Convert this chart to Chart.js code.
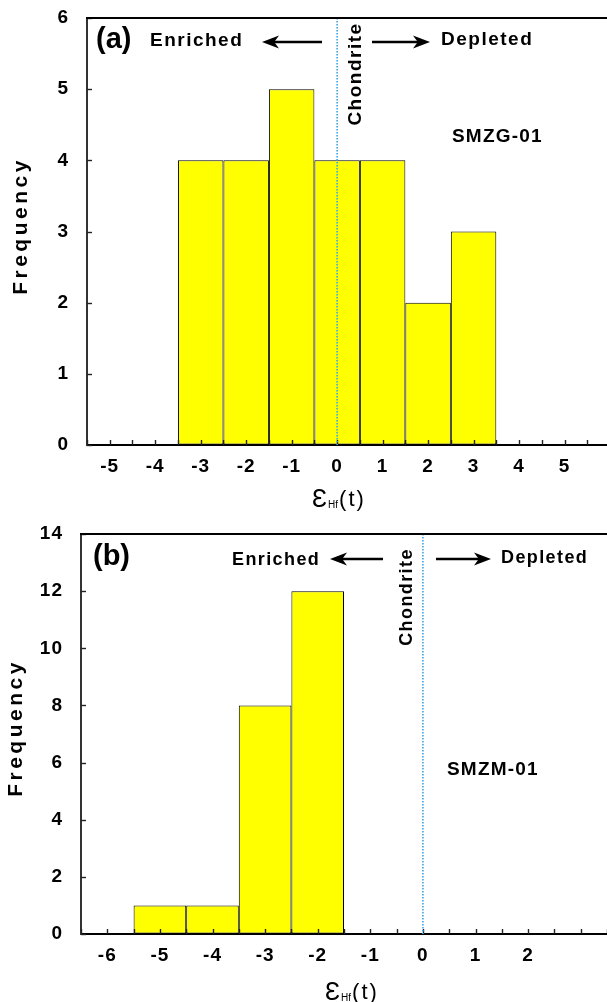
<!DOCTYPE html>
<html><head><meta charset="utf-8">
<script src="https://cdn.jsdelivr.net/npm/chart.js@4.4.1/dist/chart.umd.min.js"></script>
<style>
html,body{margin:0;padding:0;background:#fff;overflow:hidden;width:607px;height:1002px;position:relative;}
#ca{position:absolute;left:0;top:0;}
#cb{position:absolute;left:0;top:515px;}
</style></head><body>
<canvas id="ca" width="614" height="515"></canvas>
<canvas id="cb" width="612" height="487"></canvas>
<script>
// ---------- data ----------
const binsA = [-3, -2, -1, 0, 1, 2, 3];
const freqA = [4, 4, 5, 4, 4, 2, 3];
const binsB = [-5, -4, -3, -2];
const freqB = [1, 1, 8, 12];
const xTickLabelsA = [-5, -4, -3, -2, -1, 0, 1, 2, 3, 4, 5];
const xTickLabelsB = [-6, -5, -4, -3, -2, -1, 0, 1, 2];
const yTickLabelsA = [0, 1, 2, 3, 4, 5, 6];
const yTickLabelsB = [0, 2, 4, 6, 8, 10, 12, 14];
const panelLetters = ['(a)', '(b)'];
const sampleNames = ['SMZG-01', 'SMZM-01'];
const leftText = 'Enriched', rightText = 'Depleted', refText = 'Chondrite', yTitle = 'Frequency';
const xTitleParts = ['\u0190', 'Hf', '(t)'];

// ---------- style ----------
const FONT = '"Liberation Sans", Arial, Helvetica, sans-serif';
Chart.defaults.color = '#000';
Chart.defaults.font.family = FONT;

function drawText(ctx, s, x, y, size, o) {
  o = o || {};
  ctx.save();
  ctx.font = (o.weight || 'bold') + ' ' + size + 'px ' + FONT;
  ctx.letterSpacing = (o.ls || 0) + 'px';
  ctx.fillStyle = '#000';
  ctx.textAlign = o.align || 'left';
  ctx.textBaseline = o.base || 'middle';
  if (o.rot) { ctx.translate(x, y); ctx.rotate(-Math.PI / 2); ctx.fillText(s, 0, 0); }
  else ctx.fillText(s, x, y);
  ctx.restore();
}
function drawArrow(ctx, xTail, xTip, y) {
  const dir = Math.sign(xTip - xTail), L = 17, H = 6.5;
  ctx.save();
  ctx.strokeStyle = '#000'; ctx.fillStyle = '#000'; ctx.lineWidth = 2.6;
  ctx.beginPath(); ctx.moveTo(xTail, y); ctx.lineTo(xTip - dir * L * 0.7, y); ctx.stroke();
  ctx.beginPath(); ctx.moveTo(xTip, y); ctx.lineTo(xTip - dir * L, y - H);
  ctx.lineTo(xTip - dir * L * 0.72, y); ctx.lineTo(xTip - dir * L, y + H); ctx.closePath(); ctx.fill();
  ctx.restore();
}

const panels = [
  { id: 'ca', bins: binsA, freq: freqA, xMin: -5.5, xMax: 6, yMax: 6, yStep: 1,
    xLabels: xTickLabelsA, yLabels: yTickLabelsA, yW: 87, xH: 70, padTop: 18, padRight: 4,
    letter: panelLetters[0], sample: sampleNames[0], fs: 19, ls: 1.5,
    pos: { letter: [96, 40], left: [150, 41], arrowL: [322, 262, 42], ref: [361, 74],
           arrowR: [372, 430, 42], right: [441, 40], sample: [452, 137], sampleSize: 19,
           xTitle: [312, 506], yTitle: [27, 226] } },
  { id: 'cb', bins: binsB, freq: freqB, xMin: -6.5, xMax: 3.5, yMax: 14, yStep: 2,
    xLabels: xTickLabelsB, yLabels: yTickLabelsB, yW: 81, xH: 68, padTop: 19, padRight: 5,
    letter: panelLetters[1], sample: sampleNames[1], fs: 18, ls: 1.4,
    pos: { letter: [93, 42], left: [232, 45], arrowL: [383, 330, 44], ref: [412, 82],
           arrowR: [436, 491, 44], right: [501, 43], sample: [447, 255], sampleSize: 19,
           xTitle: [325, 484], yTitle: [22, 213] } }
];

function noPad(s) { s.paddingTop = 0; s.paddingBottom = 0; s.paddingLeft = 0; s.paddingRight = 0; }

function makeChart(p) {
  const deco = {
    id: 'deco',
    beforeDraw(chart) { chart.ctx.letterSpacing = '1px'; },
    afterDatasetsDraw(chart) {
      const { ctx, chartArea: a, scales: { x, y } } = chart;
      ctx.save();
      ctx.letterSpacing = '0px';
      ctx.strokeStyle = '#222'; ctx.lineWidth = 1.4;
      x.ticks.forEach(t => {
        const px = Math.round(x.getPixelForValue(t.value)) + 0.5;
        ctx.beginPath(); ctx.moveTo(px, a.bottom); ctx.lineTo(px, a.bottom - 5); ctx.stroke();
      });
      y.ticks.forEach(t => {
        const py = Math.round(y.getPixelForValue(t.value)) + 0.5;
        ctx.beginPath(); ctx.moveTo(a.left, py); ctx.lineTo(a.left + 5, py); ctx.stroke();
      });
      // chondrite reference line
      const x0 = x.getPixelForValue(0);
      ctx.strokeStyle = '#3aa6e6'; ctx.lineWidth = 1.6; ctx.setLineDash([1.5, 1.5]);
      ctx.beginPath(); ctx.moveTo(x0, a.top); ctx.lineTo(x0, a.bottom); ctx.stroke();
      ctx.restore();
    },
    afterDraw(chart) {
      const { ctx, chartArea: a } = chart;
      const q = p.pos;
      ctx.save();
      ctx.letterSpacing = '0px';
      ctx.strokeStyle = '#000'; ctx.lineWidth = 2;
      ctx.beginPath(); ctx.moveTo(a.left - 1, a.top); ctx.lineTo(a.right + 2, a.top); ctx.stroke();
      ctx.restore();
      drawText(ctx, p.letter, q.letter[0], q.letter[1], 29, {});
      drawText(ctx, leftText, q.left[0], q.left[1], p.fs, { ls: p.ls });
      drawArrow(ctx, q.arrowL[0], q.arrowL[1], q.arrowL[2]);
      drawText(ctx, refText, q.ref[0], q.ref[1], p.fs, { ls: p.ls, rot: true, align: 'center', base: 'alphabetic' });
      drawArrow(ctx, q.arrowR[0], q.arrowR[1], q.arrowR[2]);
      drawText(ctx, rightText, q.right[0], q.right[1], p.fs, { ls: p.ls });
      drawText(ctx, p.sample, q.sample[0], q.sample[1], q.sampleSize, { ls: 1.2 });
      drawText(ctx, yTitle, q.yTitle[0], q.yTitle[1], 21, { ls: 3.5, rot: true, align: 'center', base: 'alphabetic' });
      // x title: epsilon, subscript Hf, (t)
      let xx = q.xTitle[0]; const by = q.xTitle[1];
      ctx.save();
      ctx.fillStyle = '#000'; ctx.textBaseline = 'alphabetic'; ctx.textAlign = 'left';
      ctx.letterSpacing = '0px';
      ctx.font = 'normal 25px ' + FONT;
      ctx.fillText(xTitleParts[0], xx, by + 1); xx += ctx.measureText(xTitleParts[0]).width + 1;
      ctx.font = 'normal 10px ' + FONT;
      ctx.fillText(xTitleParts[1], xx, by + 2); xx += ctx.measureText(xTitleParts[1]).width + 1;
      ctx.letterSpacing = '2px';
      ctx.font = 'normal 22px ' + FONT;
      ctx.fillText(xTitleParts[2], xx, by);
      ctx.restore();
    }
  };
  return new Chart(document.getElementById(p.id), {
    type: 'bar',
    data: {
      datasets: [{
        data: p.bins.map((b, i) => ({ x: b, y: p.freq[i] })),
        backgroundColor: '#ffff00', borderColor: '#000', borderWidth: 1, borderSkipped: false,
        // ruler minimum comes from the 0.5-unit tick spacing, so 2x gives one full bin
        barPercentage: 1, categoryPercentage: 2
      }]
    },
    options: {
      responsive: false, animation: false, events: [],
      layout: { padding: { top: p.padTop, right: p.padRight, left: 0, bottom: 0 } },
      plugins: { legend: { display: false }, tooltip: { enabled: false } },
      scales: {
        x: {
          type: 'linear', min: p.xMin, max: p.xMax, offset: false,
          ticks: { stepSize: 0.5, includeBounds: false, autoSkip: false, maxRotation: 0, minRotation: 0,
                   padding: 10, font: { size: 19, weight: 'bold' },
                   callback: v => p.xLabels.includes(v) ? String(v) : '' },
          grid: { display: true, drawOnChartArea: false, drawTicks: false, offset: false },
          border: { display: true, color: '#000', width: 2 },
          afterFit: s => { s.height = p.xH; noPad(s); }
        },
        y: {
          min: 0, max: p.yMax,
          ticks: { stepSize: p.yStep, padding: 18, font: { size: 19, weight: 'bold' },
                   callback: v => p.yLabels.includes(v) ? String(v) : '' },
          grid: { display: true, drawOnChartArea: false, drawTicks: false },
          border: { display: true, color: '#333', width: 2 },
          afterFit: s => { s.width = p.yW; noPad(s); }
        }
      }
    },
    plugins: [deco]
  });
}
panels.forEach(makeChart);
</script>
</body></html>
